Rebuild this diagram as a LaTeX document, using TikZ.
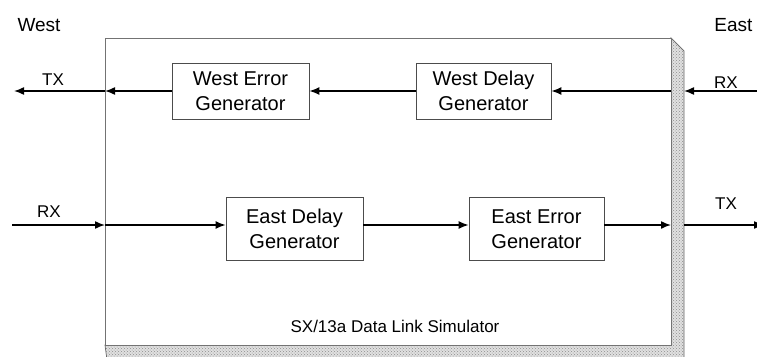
\documentclass[tikz,border=0pt]{standalone}
\usepackage{fontspec}
\setmainfont{Liberation Sans}
\usetikzlibrary{arrows.meta,patterns}
\begin{document}
\begin{tikzpicture}[x=1pt,y=-1pt,
  genbox/.style={draw=black!70, line width=0.8pt, fill=white, align=center,
    font=\fontsize{20}{25}\selectfont, inner sep=0pt},
  conn/.style={line width=1.5pt, -{Latex[length=10pt,width=8pt]}},
  frame/.style={draw=black!55, line width=0.9pt},
  shade3d/.style={draw=black!60, line width=0.7pt, fill=black!12,
    postaction={pattern=crosshatch dots, pattern color=black!45}},
  portlbl/.style={font=\fontsize{17}{19}\selectfont},
  sidelbl/.style={font=\fontsize{19}{22}\selectfont}]
\useasboundingbox (0,0) rectangle (757,356);
\clip (0,0) rectangle (757,356);

% simulator chassis: raised edge along the right and bottom
\path[shade3d] (671,38) -- (684,51) -- (684,360) -- (107,360) -- (105,345)
  -- (671,345) -- cycle;
\path[frame, fill=white] (105,38) rectangle (671,345);

% functional blocks
\node[genbox, minimum width=137pt, minimum height=56pt] (we) at (240.5,91)
  {West Error\\Generator};
\node[genbox, minimum width=135pt, minimum height=56pt] (wd) at (483.5,91)
  {West Delay\\Generator};
\node[genbox, minimum width=137pt, minimum height=63pt] (ed) at (294.5,229)
  {East Delay\\Generator};
\node[genbox, minimum width=135pt, minimum height=63pt] (ee) at (536.5,229)
  {East Error\\Generator};

% port coordinates
\coordinate (eRXin) at (757,91);
\coordinate (sR1) at (684,91);
\coordinate (sL1) at (671,91);
\coordinate (fL1) at (105,91);
\coordinate (wTX) at (14,91);
\coordinate (wRXin) at (12,225);
\coordinate (fL2) at (105,225);
\coordinate (sL2) at (671,225);
\coordinate (sR2) at (684,225);
\coordinate (eTX) at (764,225);

% westbound path
\draw[conn] (eRXin) -- (sR1);
\draw[conn] (sL1) -- (wd.east);
\draw[conn] (wd.west) -- (we.east);
\draw[conn] (we.west) -- (fL1);
\draw[conn] (fL1) -- (wTX);

% eastbound path
\draw[conn] (wRXin) -- (fL2);
\draw[conn] (fL2) -- (ed.west |- fL2);
\draw[conn] (ed.east |- fL2) -- (ee.west |- fL2);
\draw[conn] (ee.east |- fL2) -- (sL2);
\draw[conn] (sR2) -- (eTX);

% labels
\node[sidelbl] (west) at (39,25) {West};
\node[sidelbl, anchor=east] (east) at (756,25) {East};
\node[portlbl] (wtxl) at (53,80) {TX};
\node[portlbl] (erxl) at (726,83) {RX};
\node[portlbl] (wrxl) at (49,212) {RX};
\node[portlbl] (etxl) at (726,204) {TX};
\node[font=\fontsize{17}{20}\selectfont] (title) at (395,326)
  {SX/13a Data Link Simulator};
\end{tikzpicture}
\end{document}
